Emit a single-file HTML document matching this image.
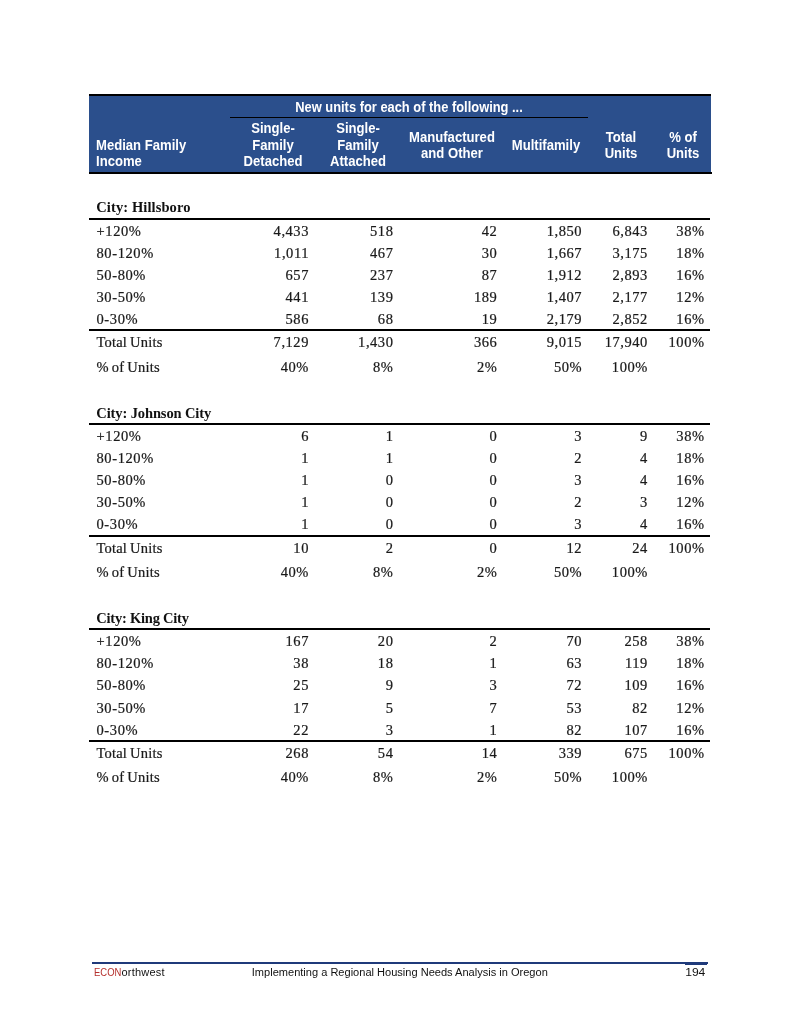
<!DOCTYPE html>
<html lang="en"><head><meta charset="utf-8"><title>Regional Housing Needs Analysis - Table</title>
<style>
html,body{margin:0;padding:0;background:#fff;}
body{width:800px;height:1035px;position:relative;overflow:hidden;font-family:"Liberation Serif",serif;color:#1a1a1a;}
.abs{position:absolute;white-space:nowrap;}
.hd{position:absolute;left:89px;top:94px;width:622px;height:80px;background:#2b4f8c;}
.hd .tl{position:absolute;left:0;top:0;width:622px;height:2px;background:#000;}
.hd .bl{position:absolute;left:0;bottom:0;width:623px;height:2px;background:#000;}
.hd .il{position:absolute;left:141px;top:23px;width:358px;height:1px;background:#000;}
.ht{position:absolute;color:#fff;font-family:"Liberation Sans",sans-serif;font-weight:bold;font-size:14px;line-height:16.4px;text-align:center;white-space:nowrap;transform:scaleX(0.935);}
.r{position:absolute;left:0;width:800px;height:20px;line-height:20px;font-size:14.5px;-webkit-text-stroke:0.22px #1a1a1a;}
.r span{position:absolute;top:0;white-space:nowrap;}
.r .l{left:96.5px;letter-spacing:0.2px;word-spacing:-0.8px;}
.r .d{left:96.5px;letter-spacing:0.6px;}
.r .n{text-align:right;letter-spacing:0.55px;}
.h{position:absolute;left:96.3px;font-weight:bold;font-size:14.5px;line-height:20px;height:20px;white-space:nowrap;color:#111;}
.ln{position:absolute;left:89px;width:621px;height:2px;background:#000;}
.ft{position:absolute;font-family:"Liberation Sans",sans-serif;font-size:11px;line-height:14px;white-space:nowrap;color:#111;}
</style></head><body>
<div class="hd"><div class="tl"></div><div class="bl"></div><div class="il"></div></div>
<div class="ht" style="left:249px;top:98.95px;width:320px;transform:scaleX(0.92);">New units for each of the following ...</div>
<div class="ht" style="left:202.7px;top:120.45px;width:140px;">Single-<br>Family<br>Detached</div>
<div class="ht" style="left:287.5px;top:120.45px;width:140px;">Single-<br>Family<br>Attached</div>
<div class="ht" style="left:381.8px;top:128.95px;width:140px;">Manufactured<br>and Other</div>
<div class="ht" style="left:475.8px;top:136.95px;width:140px;">Multifamily</div>
<div class="ht" style="left:551px;top:128.95px;width:140px;">Total<br>Units</div>
<div class="ht" style="left:612.5px;top:128.95px;width:140px;">% of<br>Units</div>
<div class="ht" style="left:96.3px;top:136.85px;text-align:left;transform-origin:0 50%;">Median Family<br>Income</div>
<div class="h" style="top:196.7px;letter-spacing:0.1px;">City: Hillsboro</div>
<div class="ln" style="top:218px;"></div>
<div class="r" style="top:220.55px;"><span class="d">+120%</span><span class="n" style="right:491.05px;">4,433</span><span class="n" style="right:406.55px;">518</span><span class="n" style="right:302.65px;">42</span><span class="n" style="right:217.85px;">1,850</span><span class="n" style="right:152.15px;">6,843</span><span class="n" style="right:95.45px;">38%</span></div>
<div class="r" style="top:242.55px;"><span class="d">80-120%</span><span class="n" style="right:491.05px;">1,011</span><span class="n" style="right:406.55px;">467</span><span class="n" style="right:302.65px;">30</span><span class="n" style="right:217.85px;">1,667</span><span class="n" style="right:152.15px;">3,175</span><span class="n" style="right:95.45px;">18%</span></div>
<div class="r" style="top:264.6px;"><span class="d">50-80%</span><span class="n" style="right:491.05px;">657</span><span class="n" style="right:406.55px;">237</span><span class="n" style="right:302.65px;">87</span><span class="n" style="right:217.85px;">1,912</span><span class="n" style="right:152.15px;">2,893</span><span class="n" style="right:95.45px;">16%</span></div>
<div class="r" style="top:286.7px;"><span class="d">30-50%</span><span class="n" style="right:491.05px;">441</span><span class="n" style="right:406.55px;">139</span><span class="n" style="right:302.65px;">189</span><span class="n" style="right:217.85px;">1,407</span><span class="n" style="right:152.15px;">2,177</span><span class="n" style="right:95.45px;">12%</span></div>
<div class="r" style="top:308.9px;"><span class="d">0-30%</span><span class="n" style="right:491.05px;">586</span><span class="n" style="right:406.55px;">68</span><span class="n" style="right:302.65px;">19</span><span class="n" style="right:217.85px;">2,179</span><span class="n" style="right:152.15px;">2,852</span><span class="n" style="right:95.45px;">16%</span></div>
<div class="r" style="top:331.7px;"><span class="l">Total Units</span><span class="n" style="right:491.05px;">7,129</span><span class="n" style="right:406.55px;">1,430</span><span class="n" style="right:302.65px;">366</span><span class="n" style="right:217.85px;">9,015</span><span class="n" style="right:152.15px;">17,940</span><span class="n" style="right:95.45px;">100%</span></div>
<div class="r" style="top:356.5px;"><span class="l">% of Units</span><span class="n" style="right:491.05px;">40%</span><span class="n" style="right:406.55px;">8%</span><span class="n" style="right:302.65px;">2%</span><span class="n" style="right:217.85px;">50%</span><span class="n" style="right:152.15px;">100%</span></div>
<div class="ln" style="top:329px;"></div>
<div class="h" style="top:402.6px;letter-spacing:-0.11px;">City: Johnson City</div>
<div class="ln" style="top:423px;"></div>
<div class="r" style="top:425.55px;"><span class="d">+120%</span><span class="n" style="right:491.05px;">6</span><span class="n" style="right:406.55px;">1</span><span class="n" style="right:302.65px;">0</span><span class="n" style="right:217.85px;">3</span><span class="n" style="right:152.15px;">9</span><span class="n" style="right:95.45px;">38%</span></div>
<div class="r" style="top:447.55px;"><span class="d">80-120%</span><span class="n" style="right:491.05px;">1</span><span class="n" style="right:406.55px;">1</span><span class="n" style="right:302.65px;">0</span><span class="n" style="right:217.85px;">2</span><span class="n" style="right:152.15px;">4</span><span class="n" style="right:95.45px;">18%</span></div>
<div class="r" style="top:469.6px;"><span class="d">50-80%</span><span class="n" style="right:491.05px;">1</span><span class="n" style="right:406.55px;">0</span><span class="n" style="right:302.65px;">0</span><span class="n" style="right:217.85px;">3</span><span class="n" style="right:152.15px;">4</span><span class="n" style="right:95.45px;">16%</span></div>
<div class="r" style="top:491.7px;"><span class="d">30-50%</span><span class="n" style="right:491.05px;">1</span><span class="n" style="right:406.55px;">0</span><span class="n" style="right:302.65px;">0</span><span class="n" style="right:217.85px;">2</span><span class="n" style="right:152.15px;">3</span><span class="n" style="right:95.45px;">12%</span></div>
<div class="r" style="top:513.95px;"><span class="d">0-30%</span><span class="n" style="right:491.05px;">1</span><span class="n" style="right:406.55px;">0</span><span class="n" style="right:302.65px;">0</span><span class="n" style="right:217.85px;">3</span><span class="n" style="right:152.15px;">4</span><span class="n" style="right:95.45px;">16%</span></div>
<div class="r" style="top:537.7px;"><span class="l">Total Units</span><span class="n" style="right:491.05px;">10</span><span class="n" style="right:406.55px;">2</span><span class="n" style="right:302.65px;">0</span><span class="n" style="right:217.85px;">12</span><span class="n" style="right:152.15px;">24</span><span class="n" style="right:95.45px;">100%</span></div>
<div class="r" style="top:561.5px;"><span class="l">% of Units</span><span class="n" style="right:491.05px;">40%</span><span class="n" style="right:406.55px;">8%</span><span class="n" style="right:302.65px;">2%</span><span class="n" style="right:217.85px;">50%</span><span class="n" style="right:152.15px;">100%</span></div>
<div class="ln" style="top:535px;"></div>
<div class="h" style="top:607.6px;letter-spacing:-0.23px;">City: King City</div>
<div class="ln" style="top:628px;"></div>
<div class="r" style="top:630.55px;"><span class="d">+120%</span><span class="n" style="right:491.05px;">167</span><span class="n" style="right:406.55px;">20</span><span class="n" style="right:302.65px;">2</span><span class="n" style="right:217.85px;">70</span><span class="n" style="right:152.15px;">258</span><span class="n" style="right:95.45px;">38%</span></div>
<div class="r" style="top:652.55px;"><span class="d">80-120%</span><span class="n" style="right:491.05px;">38</span><span class="n" style="right:406.55px;">18</span><span class="n" style="right:302.65px;">1</span><span class="n" style="right:217.85px;">63</span><span class="n" style="right:152.15px;">119</span><span class="n" style="right:95.45px;">18%</span></div>
<div class="r" style="top:674.6px;"><span class="d">50-80%</span><span class="n" style="right:491.05px;">25</span><span class="n" style="right:406.55px;">9</span><span class="n" style="right:302.65px;">3</span><span class="n" style="right:217.85px;">72</span><span class="n" style="right:152.15px;">109</span><span class="n" style="right:95.45px;">16%</span></div>
<div class="r" style="top:697.7px;"><span class="d">30-50%</span><span class="n" style="right:491.05px;">17</span><span class="n" style="right:406.55px;">5</span><span class="n" style="right:302.65px;">7</span><span class="n" style="right:217.85px;">53</span><span class="n" style="right:152.15px;">82</span><span class="n" style="right:95.45px;">12%</span></div>
<div class="r" style="top:719.7px;"><span class="d">0-30%</span><span class="n" style="right:491.05px;">22</span><span class="n" style="right:406.55px;">3</span><span class="n" style="right:302.65px;">1</span><span class="n" style="right:217.85px;">82</span><span class="n" style="right:152.15px;">107</span><span class="n" style="right:95.45px;">16%</span></div>
<div class="r" style="top:742.7px;"><span class="l">Total Units</span><span class="n" style="right:491.05px;">268</span><span class="n" style="right:406.55px;">54</span><span class="n" style="right:302.65px;">14</span><span class="n" style="right:217.85px;">339</span><span class="n" style="right:152.15px;">675</span><span class="n" style="right:95.45px;">100%</span></div>
<div class="r" style="top:767.45px;"><span class="l">% of Units</span><span class="n" style="right:491.05px;">40%</span><span class="n" style="right:406.55px;">8%</span><span class="n" style="right:302.65px;">2%</span><span class="n" style="right:217.85px;">50%</span><span class="n" style="right:152.15px;">100%</span></div>
<div class="ln" style="top:740px;"></div>
<div class="abs" style="left:92px;top:962px;width:616px;height:2px;background:#1f3a7a;"></div>
<div class="abs" style="left:685px;top:962px;width:22px;height:3px;background:#1f3a7a;"></div>
<div class="ft" style="left:94.3px;top:965.0px;letter-spacing:0.2px;"><span style="color:#b5302d;display:inline-block;transform:scaleX(0.86);transform-origin:0 50%;margin-right:-4.6px;letter-spacing:0;">ECON</span>orthwest</div>
<div class="ft" style="left:251.8px;top:965.0px;font-size:11.05px;">Implementing a Regional Housing Needs Analysis in Oregon</div>
<div class="ft" style="right:94.3px;top:965.0px;transform:scaleX(1.1);transform-origin:100% 50%;">194</div>
</body></html>
